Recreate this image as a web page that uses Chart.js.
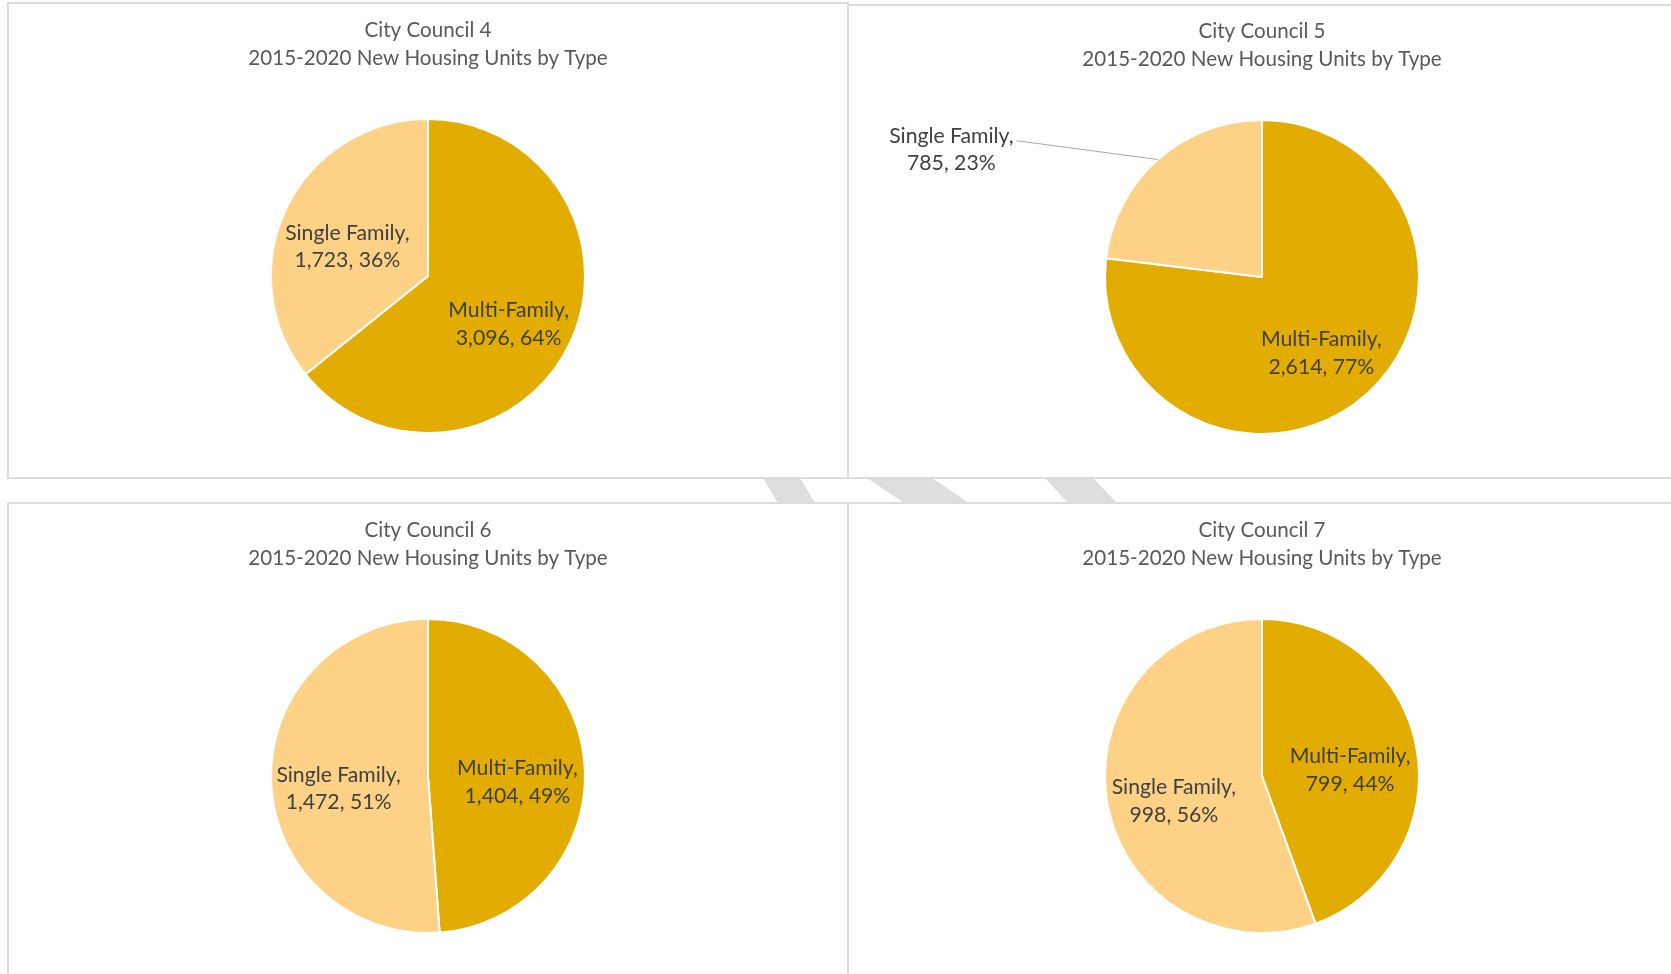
<!DOCTYPE html>
<html>
<head>
<meta charset="utf-8">
<script src="https://cdn.jsdelivr.net/npm/chart.js@4.4.1/dist/chart.umd.min.js"></script>
<style>
  html, body { margin: 0; padding: 0; background: #ffffff; width: 1671px; height: 974px; overflow: hidden; }
  .panel { position: absolute; box-sizing: border-box; border: 2px solid #DCDCDC; background: #ffffff; z-index: 1; }
  .stripe { position: absolute; background: #DEDEDE; z-index: 0; }
  canvas { position: absolute; z-index: 2; }
</style>
</head>
<body>
<div class="stripe" style="left:0;top:478px;width:1671px;height:25px;clip-path:polygon(763px 0,800px 0,815px 25px,778px 25px);"></div>
<div class="stripe" style="left:0;top:478px;width:1671px;height:25px;clip-path:polygon(867px 0,932px 0,969px 25px,904px 25px);"></div>
<div class="stripe" style="left:0;top:478px;width:1671px;height:25px;clip-path:polygon(1045px 0,1093px 0,1117px 25px,1068px 25px);"></div>

<div class="panel" style="left:7px;top:2px;width:842px;height:477px;"></div>
<div class="panel" style="left:847px;top:4px;width:900px;height:475px;"></div>
<div class="panel" style="left:7px;top:502px;width:842px;height:500px;"></div>
<div class="panel" style="left:847px;top:502px;width:900px;height:500px;"></div>

<canvas id="c0" width="840" height="475" style="left:8px;top:3px;"></canvas>
<canvas id="c1" width="828" height="475" style="left:848px;top:4px;"></canvas>
<canvas id="c2" width="840" height="475" style="left:8px;top:503px;"></canvas>
<canvas id="c3" width="828" height="475" style="left:848px;top:503px;"></canvas>

<script>
// ---- data ----
const councils = ['City Council 4', 'City Council 5', 'City Council 6', 'City Council 7'];
const subtitle = '2015-2020 New Housing Units by Type';
const categories = ['Multi-Family', 'Single Family'];
const multiFamily = [3096, 2614, 1404, 799];
const singleFamily = [1723, 785, 1472, 998];

// ---- styles ----
const sliceColors = ['#E2AC00', '#FED286'];
const FONT = 'Lato, "Open Sans", sans-serif';
const TITLE_SIZE = 20.6;
const LABEL_SIZE = 21.2;

const labelPlugin = {
  id: 'pieLabels',
  afterDatasetsDraw(chart) {
    const ctx = chart.ctx;
    const ds = chart.data.datasets[0];
    const meta = chart.getDatasetMeta(0);
    const total = ds.data.reduce((a, b) => a + b, 0);
    ctx.save();
    ctx.font = LABEL_SIZE + 'px ' + FONT;
    ctx.fillStyle = '#404040';
    ctx.textAlign = 'center';
    ctx.textBaseline = 'middle';
    const lh = 27.7;
    meta.data.forEach((arc, i) => {
      const p = arc.getProps(['x', 'y', 'startAngle', 'endAngle', 'outerRadius'], true);
      const mid = (p.startAngle + p.endAngle) / 2;
      const v = ds.data[i];
      const frac = v / total;
      const lines = [chart.data.labels[i] + ',', v.toLocaleString('en-US') + ', ' + Math.round(frac * 100) + '%'];
      const r = p.outerRadius;
      if (frac >= 0.3) {
        const cx = p.x + Math.cos(mid) * r * 0.57;
        const cy = p.y + Math.sin(mid) * r * 0.57 + 0.06 * r;
        ctx.fillText(lines[0], cx, cy - lh / 2);
        ctx.fillText(lines[1], cx, cy + lh / 2);
      } else {
        const ex = p.x + Math.cos(mid) * r;
        const ey = p.y + Math.sin(mid) * r;
        const side = Math.cos(mid) < 0 ? -1 : 1;
        const lx = ex + side * 0.9 * r;
        const ly = ey - 0.12 * r;
        ctx.strokeStyle = '#A6A6A6';
        ctx.lineWidth = 1;
        ctx.beginPath();
        ctx.moveTo(ex, ey);
        ctx.lineTo(lx, ly);
        ctx.stroke();
        const w = Math.max(ctx.measureText(lines[0]).width, ctx.measureText(lines[1]).width);
        const tx = lx + side * (3 + w / 2);
        ctx.fillText(lines[0], tx, ly - 5);
        ctx.fillText(lines[1], tx, ly - 5 + lh);
      }
    });
    ctx.restore();
  }
};

function build() {
  councils.forEach((name, k) => {
    new Chart(document.getElementById('c' + k), {
      type: 'pie',
      data: {
        labels: categories,
        datasets: [{
          data: [multiFamily[k], singleFamily[k]],
          backgroundColor: sliceColors,
          borderColor: '#ffffff',
          borderWidth: 2
        }]
      },
      options: {
        responsive: false,
        animation: false,
        events: [],
        layout: { padding: { top: 0, bottom: 44, left: 0, right: 0 } },
        plugins: {
          legend: { display: false },
          tooltip: { enabled: false },
          title: {
            display: true,
            text: [name, subtitle],
            color: '#595959',
            font: { family: FONT, size: TITLE_SIZE, weight: 'normal', lineHeight: 1.345 },
            padding: { top: 14, bottom: 45.6 }
          }
        }
      },
      plugins: [labelPlugin]
    });
  });
}

if (document.fonts && document.fonts.load) {
  document.fonts.load(TITLE_SIZE + 'px Lato').then(build, build);
} else {
  build();
}
</script>
</body>
</html>
